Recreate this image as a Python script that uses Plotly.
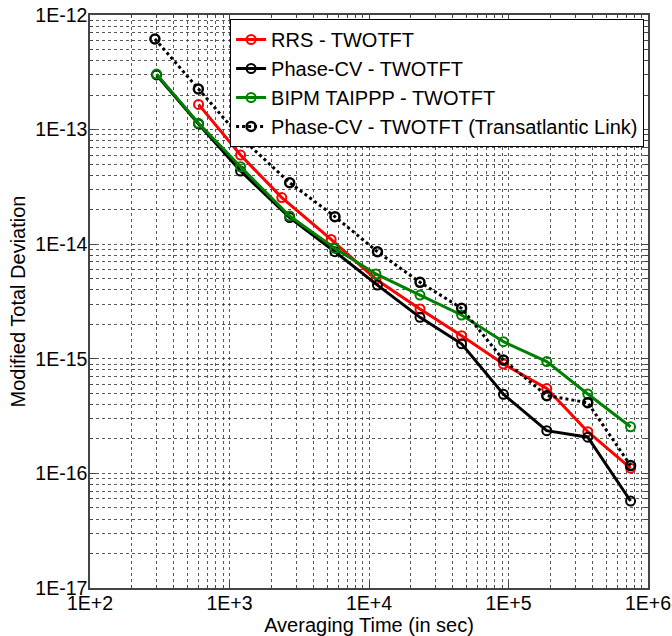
import plotly.graph_objects as go

# ---- data ----
rrs_tau = [600, 1200, 2370, 5350, 11200, 23200, 46100, 92000, 188000, 370000, 750000]
rrs_dev = [1.66e-13, 6.0e-14, 2.55e-14, 1.10e-14, 4.95e-15, 2.72e-15, 1.59e-15, 9.0e-16, 5.5e-16, 2.31e-16, 1.11e-16]

pcv_tau = [300, 600, 1200, 2700, 5700, 11500, 23200, 46100, 92000, 188000, 370000, 750000]
pcv_dev = [3.0e-13, 1.12e-13, 4.35e-14, 1.71e-14, 8.6e-15, 4.4e-15, 2.3e-15, 1.35e-15, 4.9e-16, 2.36e-16, 2.07e-16, 5.74e-17]

bipm_tau = [300, 600, 1200, 2700, 5700, 11200, 23200, 46100, 92000, 188000, 370000, 750000]
bipm_dev = [3.05e-13, 1.135e-13, 4.74e-14, 1.76e-14, 9.2e-15, 5.5e-15, 3.6e-15, 2.41e-15, 1.41e-15, 9.45e-16, 4.93e-16, 2.55e-16]

tal_tau = [292, 598, 1189, 2700, 5700, 11500, 23200, 46100, 92000, 188000, 370000, 750000]
tal_dev = [6.18e-13, 2.26e-13, 8.67e-14, 3.44e-14, 1.74e-14, 8.6e-15, 4.65e-15, 2.76e-15, 9.77e-16, 4.77e-16, 4.14e-16, 1.17e-16]

names = ["RRS - TWOTFT", "Phase-CV - TWOTFT", "BIPM TAIPPP - TWOTFT",
         "Phase-CV - TWOTFT (Transatlantic Link)"]

x_ticks = [1e2, 1e3, 1e4, 1e5, 1e6]
x_ticktext = ["1E+2", "1E+3", "1E+4", "1E+5", "1E+6"]
y_ticks = [1e-17, 1e-16, 1e-15, 1e-14, 1e-13, 1e-12]
y_ticktext = ["1E-17", "1E-16", "1E-15", "1E-14", "1E-13", "1E-12"]

x_minor = [m * 10.0 ** e for e in range(2, 6) for m in range(2, 10)]
y_minor = [m * 10.0 ** e for e in range(-17, -12) for m in range(2, 10)]

FONT = "Liberation Sans, Arial, sans-serif"

fig = go.Figure()
fig.add_trace(go.Scatter(x=rrs_tau, y=rrs_dev, name=names[0], mode="lines+markers",
                         line=dict(color="#ff0000", width=3),
                         marker=dict(symbol="circle-open", size=9, color="#ff0000", line=dict(width=2))))
fig.add_trace(go.Scatter(x=pcv_tau, y=pcv_dev, name=names[1], mode="lines+markers",
                         line=dict(color="#000000", width=3),
                         marker=dict(symbol="circle-open", size=9, color="#000000", line=dict(width=2))))
fig.add_trace(go.Scatter(x=bipm_tau, y=bipm_dev, name=names[2], mode="lines+markers",
                         line=dict(color="#008000", width=3),
                         marker=dict(symbol="circle-open", size=9, color="#008000", line=dict(width=2))))
fig.add_trace(go.Scatter(x=tal_tau, y=tal_dev, name=names[3], mode="lines+markers",
                         line=dict(color="#000000", width=3, dash="dot"),
                         marker=dict(symbol="circle-open", size=9, color="#000000", line=dict(width=2.5))))

grid_col = "rgba(60,60,60,0.85)"
common = dict(
    type="log", showline=True, linecolor="#444444", linewidth=1.5, mirror="allticks",
    ticks="inside", ticklen=6, tickcolor="#444444",
    showgrid=True, gridcolor=grid_col, griddash="dot", gridwidth=1,
    tickfont=dict(family=FONT, size=19.5, color="#000"),
    zeroline=False,
    minor=dict(ticks="inside", ticklen=3, tickcolor="#444444", showgrid=True,
               gridcolor=grid_col, griddash="dot", gridwidth=1),
)

fig.update_xaxes(**common)
fig.update_xaxes(range=[2, 6], tickmode="array", tickvals=x_ticks, ticktext=x_ticktext,
                 minor_tickvals=x_minor, ticklabelstandoff=-3,
                 title=dict(text="Averaging Time (in sec)", font=dict(family=FONT, size=20, color="#000"),
                            standoff=0))
fig.update_yaxes(**common)
fig.update_yaxes(range=[-17, -12], tickmode="array", tickvals=y_ticks, ticktext=y_ticktext,
                 minor_tickvals=y_minor, ticklabelstandoff=-3,
                 title=dict(text="Modified Total Deviation", font=dict(family=FONT, size=20, color="#000"),
                            standoff=4))

fig.update_layout(
    width=672, height=636,
    margin=dict(l=90, r=24, t=15, b=48, autoexpand=False),
    paper_bgcolor="white", plot_bgcolor="white",
    font=dict(family=FONT, size=20, color="#000"),
    showlegend=True,
    legend=dict(x=0.993, y=0.993, xanchor="right", yanchor="top",
                bgcolor="white", bordercolor="#000", borderwidth=1,
                font=dict(family=FONT, size=20, color="#000"),
                tracegroupgap=0, itemwidth=30),
)

fig.write_html("out.html", config={"displayModeBar": False},
               post_script="document.body.style.margin='0';document.body.style.padding='0';")
